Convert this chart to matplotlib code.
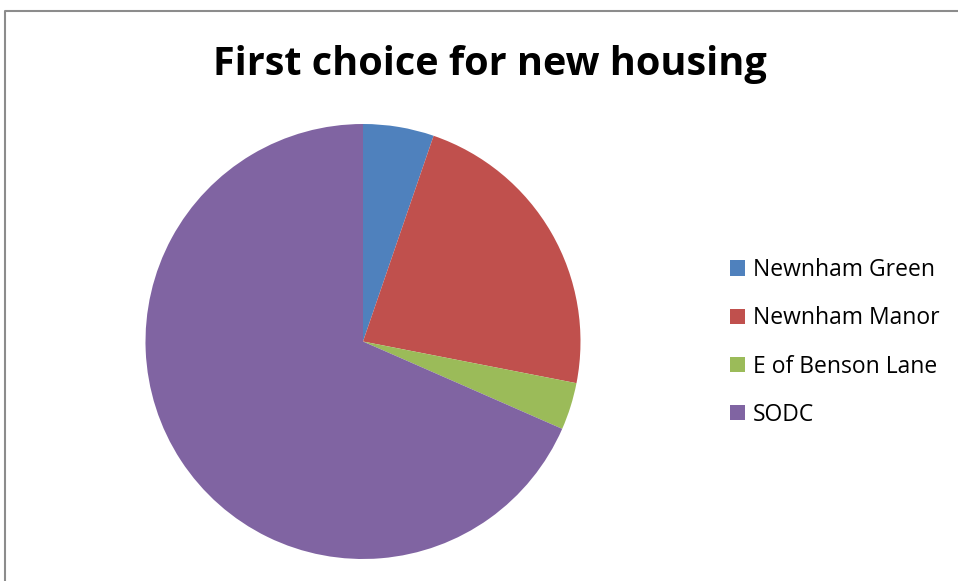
import matplotlib.pyplot as plt
from matplotlib.lines import Line2D

labels = ["Newnham Green", "Newnham Manor", "E of Benson Lane", "SODC"]
votes = [3, 13, 2, 39]
colors = ["#4F81BD", "#C0504D", "#9BBB59", "#8064A2"]

W, H = 958, 581
fig = plt.figure(figsize=(W / 100, H / 100), dpi=100)

# grey chart-area border (cropped on right and bottom)
fig.add_artist(Line2D([5 / W, 5 / W, 1.0], [0.0, 1 - 11 / H, 1 - 11 / H],
                      transform=fig.transFigure, color="#8c8c8c", lw=1.5))

fig.text(490 / W, 1 - 65 / H, "First choice for new housing", ha="center", va="center",
         fontsize=28.5, fontweight="bold", family="Open Sans")

cx, cy, r = 363, 581 - 341.5, 217.5
ax = fig.add_axes([(cx - r) / W, (cy - r) / H, 2 * r / W, 2 * r / H])
wedges, _ = ax.pie(votes, colors=colors, startangle=90, counterclock=False, radius=1,
                   wedgeprops=dict(linewidth=0))
ax.set_xlim(-1, 1)
ax.set_ylim(-1, 1)

fig.legend(wedges, labels, loc="upper left", bbox_to_anchor=(730 / W, 1 - 258 / H),
           frameon=False, handlelength=0.65, handleheight=0.65,
           handletextpad=0.35, labelspacing=1.06, borderpad=0, borderaxespad=0,
           prop=dict(family="Open Sans", size=16.5))

fig.savefig("out.png", dpi=100)
